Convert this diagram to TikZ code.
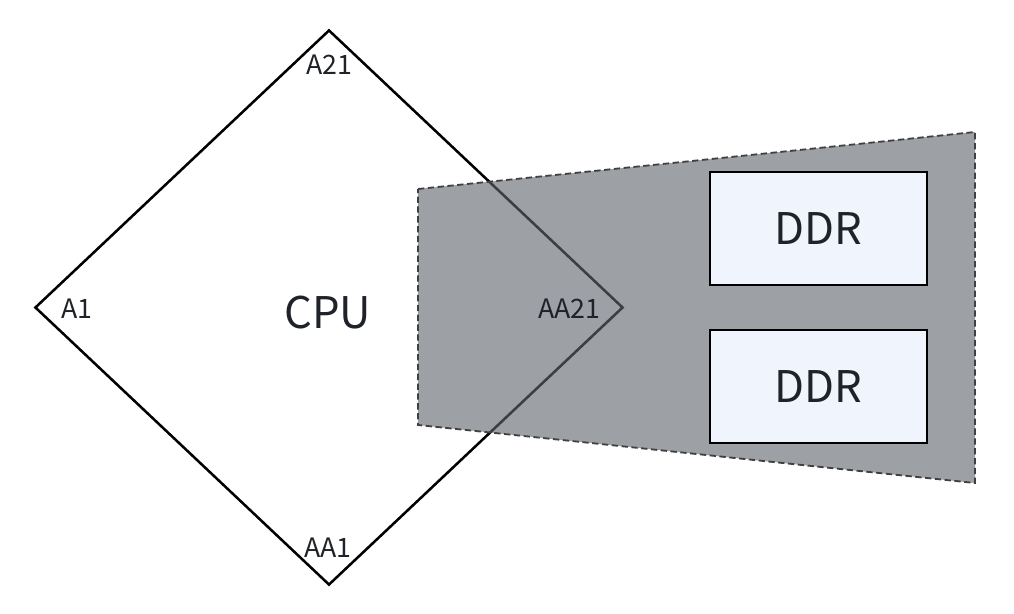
\documentclass[tikz,border=0pt]{standalone}
\usepackage{fontspec}
\setmainfont{Noto Sans CJK SC}
\usetikzlibrary{shapes.geometric}
\definecolor{txtdark}{HTML}{1F2329}
\definecolor{regiongray}{HTML}{61656E}
\definecolor{memfill}{HTML}{F0F4FC}

\begin{document}
\begin{tikzpicture}[x=0.025cm, y=-0.025cm, every node/.style={text=txtdark}]
    \useasboundingbox (0,0) rectangle (1014,613);
    \tikzset{
      pin/.style={font=\fontsize{19}{19}\selectfont, inner sep=0pt},
      big/.style={font=\fontsize{31}{31}\selectfont},
      mem/.style={rectangle, draw=black, line width=1.4pt, fill=memfill,
                  minimum width=5.425cm, minimum height=2.825cm, big}
    }
    % Nodes
    \node[diamond, draw=black, line width=1.8pt, inner sep=0pt,
          minimum width=14.7cm, minimum height=13.875cm, big] (cpu) at (329,307.5) {};
    \node[big] (cpulbl) at (328,313) {CPU};
    \node[pin] (a21) at (329,65) {A21};
    \node[pin] (a1) at (77,309) {A1};
    \node[pin] (aa1) at (328,548) {AA1};

    % Region
    \fill[regiongray, fill opacity=0.62] (418,189) -- (975,132) -- (975,483) -- (418,425) -- cycle;
    \draw[black!75, line width=1.3pt, dash pattern=on 4.5pt off 2.5pt]
      (418,189) -- (975,132) -- (975,483) -- (418,425) -- cycle;

    \node[pin] (aa21) at (569,309) {AA21};
    \node[mem] (ddr1) at (818.5,228.5) {DDR};
    \node[mem] (ddr2) at (818.5,386.5) {DDR};
\end{tikzpicture}
\end{document}
